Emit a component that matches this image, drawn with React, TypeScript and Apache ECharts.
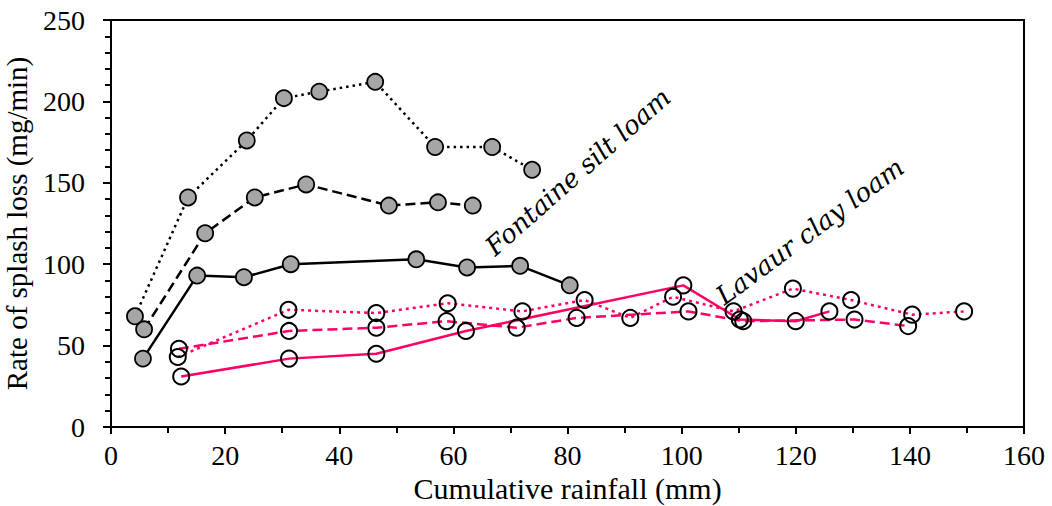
import React, { useEffect, useRef } from "react";
import * as echarts from "echarts";

// Fontaine silt loam (grey filled markers, black lines)
const fontaineDotX = [4.2, 13.5, 23.8, 30.3, 36.5, 46.3, 56.8, 66.8, 73.8];
const fontaineDotY = [68, 141, 176, 202, 206, 212, 172, 172, 158];
const fontaineDashX = [5.8, 16.5, 25.2, 34.2, 48.7, 57.3, 63.4];
const fontaineDashY = [60, 119, 141, 149, 136, 138, 136];
const fontaineSolidX = [5.6, 15.1, 23.3, 31.5, 53.5, 62.4, 71.7, 80.4];
const fontaineSolidY = [42, 93, 92, 100, 103, 98, 99, 87];

// Lavaur clay loam (hollow markers, pink lines)
const lavaurDotX = [11.7, 31.1, 46.5, 59.0, 72.1, 83.0, 91.0, 98.5, 109.1, 119.5, 129.7, 140.4, 149.5];
const lavaurDotY = [43, 72, 70, 76, 71, 78, 67, 80, 71, 85, 78, 69, 71];
const lavaurDashX = [11.9, 31.2, 46.5, 58.8, 71.1, 81.6, 101.2, 110.8, 130.3, 139.7];
const lavaurDashY = [48, 59, 61, 65, 61, 67, 71, 65, 66, 62];
const lavaurSolidX = [12.3, 31.2, 46.5, 62.2, 100.3, 110.2, 120.0, 125.9];
const lavaurSolidY = [31, 42, 45, 59, 87, 66, 65, 71];

const xTicks = [0, 20, 40, 60, 80, 100, 120, 140, 160];
const yTicks = [0, 50, 100, 150, 200, 250];

const PINK = "#FF0066";
const SERIF = "Liberation Serif";
const ITALIC = "DejaVu Serif";

function zip(xs: number[], ys: number[]) {
  return xs.map((x, i) => [x, ys[i]]);
}

export default function App() {
  const ref = useRef<HTMLDivElement>(null);
  useEffect(() => {
    document.body.style.margin = "0";
    const chart = echarts.init(ref.current!, null, { renderer: "svg" });
    const greyMarker = { color: "#A6A6A6", borderColor: "#000", borderWidth: 1.8 };
    const hollowMarker = { color: "rgba(255,255,255,0)", borderColor: "#000", borderWidth: 2 };
    const mk = (name: string, xs: number[], ys: number[], color: string, type: any, width: number, item: any, z: number) => ({
      name,
      type: "line",
      data: zip(xs, ys),
      symbol: "circle",
      symbolSize: 16,
      showSymbol: true,
      z,
      lineStyle: { color, type, width, cap: "butt" },
      itemStyle: item,
      emphasis: { disabled: true },
    });
    chart.setOption({
      animation: false,
      backgroundColor: "#fff",
      grid: {
        left: 111,
        right: 28,
        top: 20,
        bottom: 79,
        outerBoundsMode: "none",
        containLabel: false,
        show: true,
        borderColor: "#000",
        borderWidth: 2,
        backgroundColor: "rgba(0,0,0,0)",
      },
      xAxis: {
        type: "value",
        min: xTicks[0],
        max: xTicks[xTicks.length - 1],
        interval: 20,
        name: "Cumulative rainfall (mm)",
        nameLocation: "middle",
        nameGap: 43,
        nameTextStyle: { fontFamily: SERIF, fontSize: 30, color: "#000" },
        axisLine: { show: true, lineStyle: { color: "#000", width: 2 } },
        axisTick: { show: true, length: 7, lineStyle: { color: "#000", width: 2 } },
        minorTick: { show: true, splitNumber: 2, length: 6, lineStyle: { color: "#000", width: 2 } },
        splitLine: { show: false },
        axisLabel: { fontFamily: SERIF, fontSize: 28, color: "#000", margin: 14 },
      },
      yAxis: {
        type: "value",
        min: yTicks[0],
        max: yTicks[yTicks.length - 1],
        interval: 50,
        name: "Rate of splash loss (mg/min)",
        nameLocation: "middle",
        nameGap: 80,
        nameTextStyle: { fontFamily: SERIF, fontSize: 29, color: "#000" },
        axisLine: { show: true, lineStyle: { color: "#000", width: 2 } },
        axisTick: { show: true, length: 8, lineStyle: { color: "#000", width: 2 } },
        minorTick: { show: true, splitNumber: 5, length: 6, lineStyle: { color: "#000", width: 2 } },
        splitLine: { show: false },
        axisLabel: { fontFamily: SERIF, fontSize: 28, color: "#000", margin: 26 },
      },
      series: [
        mk("Lavaur dotted", lavaurDotX, lavaurDotY, PINK, [3, 4], 2.5, hollowMarker, 3),
        mk("Lavaur dashed", lavaurDashX, lavaurDashY, PINK, [10, 5], 2.5, hollowMarker, 3),
        mk("Lavaur solid", lavaurSolidX, lavaurSolidY, PINK, "solid", 2.5, hollowMarker, 3),
        mk("Fontaine dotted", fontaineDotX, fontaineDotY, "#000", [2.5, 4], 2.5, greyMarker, 4),
        mk("Fontaine dashed", fontaineDashX, fontaineDashY, "#000", [10, 5], 2.5, greyMarker, 4),
        mk("Fontaine solid", fontaineSolidX, fontaineSolidY, "#000", "solid", 2.5, greyMarker, 4),
      ],
      graphic: [
        {
          type: "text",
          x: 498,
          y: 260,
          rotation: (41.5 * Math.PI) / 180,
          z: 10,
          style: {
            text: "Fontaine silt loam",
            fontFamily: ITALIC,
            fontStyle: "italic",
            fontSize: 26,
            fill: "#000",
            textAlign: "left",
            textVerticalAlign: "bottom",
          },
        },
        {
          type: "text",
          x: 727,
          y: 309,
          rotation: (36.6 * Math.PI) / 180,
          z: 10,
          style: {
            text: "Lavaur clay loam",
            fontFamily: ITALIC,
            fontStyle: "italic",
            fontSize: 26,
            fill: "#000",
            textAlign: "left",
            textVerticalAlign: "bottom",
          },
        },
      ],
    });
    return () => chart.dispose();
  }, []);
  return <div ref={ref} style={{ width: 1052, height: 506 }} />;
}
